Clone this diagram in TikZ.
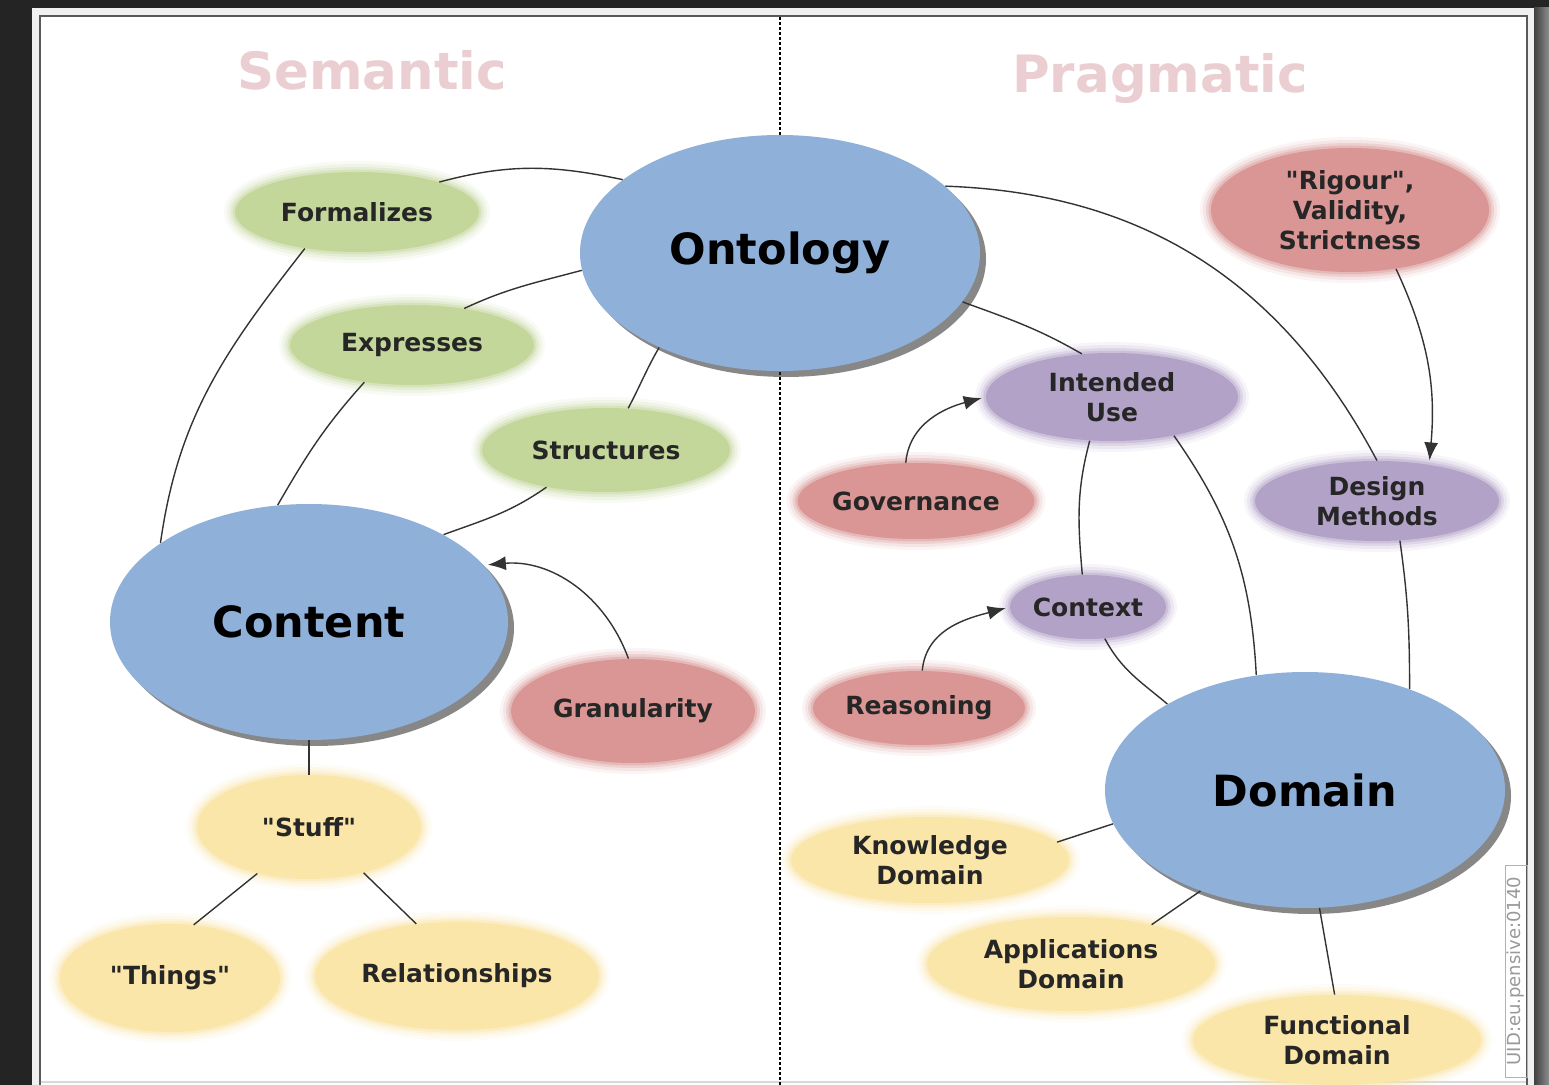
\documentclass[tikz,border=0pt]{standalone}
\usepackage{fontspec}
\setmainfont{DejaVu Sans}
\usetikzlibrary{shapes.geometric,shadows,arrows.meta}
\definecolor{hubblue}{RGB}{143,176,217}
\definecolor{leafgreen}{RGB}{196,215,155}
\definecolor{leafred}{RGB}{217,150,148}
\definecolor{leafpurple}{RGB}{179,162,199}
\definecolor{leafyellow}{RGB}{250,230,168}
\definecolor{titlepink}{RGB}{234,206,210}
\definecolor{bgdark}{RGB}{36,36,36}
\newcommand{\qt}[1]{\textquotedbl#1\textquotedbl}

\tikzset{
  dims/.style 2 args={minimum width=#1pt, minimum height=#2pt},
  bubble/.style={ellipse, fill=#1, inner sep=0pt, align=center, text=black!85,
    font=\fontsize{12.5}{15}\selectfont\bfseries,
    preaction={draw=#1, draw opacity=0.10, line width=11pt},
    preaction={draw=#1, draw opacity=0.15, line width=8pt},
    preaction={draw=#1, draw opacity=0.25, line width=5pt},
    preaction={draw=#1, draw opacity=0.4, line width=2.5pt}},
  hub/.style={ellipse, fill=hubblue, inner sep=0pt, text=black,
    font=\fontsize{21.5}{24}\selectfont\bfseries,
    drop shadow={shadow xshift=3pt, shadow yshift=-3pt, fill=black!85, opacity=0.55}},
  heading/.style={anchor=base, text=titlepink, font=\fontsize{25.7}{30}\selectfont\bfseries},
  link/.style={draw=black!80, line width=0.7pt},
  cause/.style={link, -{Latex[length=9pt,width=7pt]}, shorten >=2pt}
}

\begin{document}
\begin{tikzpicture}[x=0.5pt, y=-0.5pt]
    \useasboundingbox (0,0) rectangle (1549,1085);
    % backdrop and frame
    \fill[bgdark] (0,0) rectangle (1549,1085);
    \shade[left color=black!75, right color=black!45] (1534,8) rectangle (1549,1085);
    \fill[black!6] (32,8) rectangle (1534,1085);
    \fill[white] (41,17) rectangle (1526,1085);
    \draw[black!65, line width=1pt] (40,1085) -- (40,16) -- (1527,16) -- (1527,1085);
    \draw[black!15, line width=0.8pt] (41,1082) -- (1526,1082);
    % divider
    \draw[black, line width=0.8pt, dash pattern=on 1.5pt off 1pt] (780,17) -- (780,1085);

    \node[heading] (sem) at (372,90) {Semantic};
    \node[heading] (prag) at (1160,93) {Pragmatic};

    % the three hubs
    \node[hub, dims={200}{118}] (onto) at (780,253) {Ontology};
    \node[hub, dims={199}{118}] (cont) at (309,622) {Content};
    \node[hub, dims={200}{118}] (dom) at (1305,790) {Domain};

    % semantic side
    \node[bubble=leafgreen, dims={122}{40}] (form) at (357,212) {Formalizes};
    \node[bubble=leafgreen, dims={122}{40}] (expr) at (412,345) {Expresses};
    \node[bubble=leafgreen, dims={124}{42}] (struc) at (606,450) {Structures};
    \node[bubble=leafred, dims={122}{52}] (gran) at (633,711) {Granularity};
    \node[bubble=leafyellow, dims={112}{52}] (stuff) at (309,827) {\qt{Stuff}};
    \node[bubble=leafyellow, dims={110}{54}] (things) at (170,978) {\qt{Things}};
    \node[bubble=leafyellow, dims={142}{54}] (rel) at (457,976) {Relationships};

    % pragmatic side
    \node[bubble=leafred, dims={139}{62}] (rig) at (1350,210) {\qt{Rigour},\\Validity,\\Strictness};
    \node[bubble=leafpurple, dims={126}{44}] (use) at (1112,397) {Intended\\Use};
    \node[bubble=leafred, dims={114}{38}] (gov) at (916,501) {Governance};
    \node[bubble=leafpurple, dims={122}{40}] (meth) at (1377,501) {Design\\Methods};
    \node[bubble=leafpurple, dims={76}{32}] (ctx) at (1088,607) {Context};
    \node[bubble=leafred, dims={106}{37}] (reas) at (919,708) {Reasoning};
    \node[bubble=leafyellow, dims={139}{43}] (know) at (930,860) {Knowledge\\Domain};
    \node[bubble=leafyellow, dims={144}{47}] (app) at (1071,964) {Applications\\Domain};
    \node[bubble=leafyellow, dims={144}{45}] (func) at (1337,1040) {Functional\\Domain};

    \node[rotate=90, draw=black!30, text=black!40, font=\fontsize{9}{10}\selectfont,
        inner sep=1pt, minimum width=106pt, minimum height=11pt] (uid) at (1516,971) {UID:eu.pensive:0140};

    % curved links
    \foreach \a/\b/\o/\i in {form.20/onto.155/15/168, cont.152/form.215/82/232,
        expr.35/onto.185/25/195, cont.105/expr.218/60/228, struc.62/onto.218/62/240,
        cont.33/struc.212/20/215, onto.22/meth.90/-2/118, onto.-15/use.125/-20/150,
        use.243/ctx.100/255/95, use.-32/dom.113/-55/93, meth.-60/dom.44/-82/90,
        ctx.-62/dom.148/-62/140}{
        \draw[link] (\a) to[out=\o, in=\i] (\b);
    }
    % straight links
    \foreach \a/\b in {cont.south/stuff.north, stuff.222/things.66, stuff.-40/rel.128,
        know.8/dom.190, app.26/dom.224, dom.277/func.93}{
        \draw[link] (\a) -- (\b);
    }
    % arrows
    \draw[cause] (gran.95) to[out=110, in=5] (cont.18);
    \draw[cause] (rig.-52) to[out=-65, in=85] (meth.35);
    \draw[cause] (gov.105) to[out=85, in=195] (use.180);
    \draw[cause] (reas.85) to[out=85, in=195] (ctx.180);
\end{tikzpicture}
\end{document}
